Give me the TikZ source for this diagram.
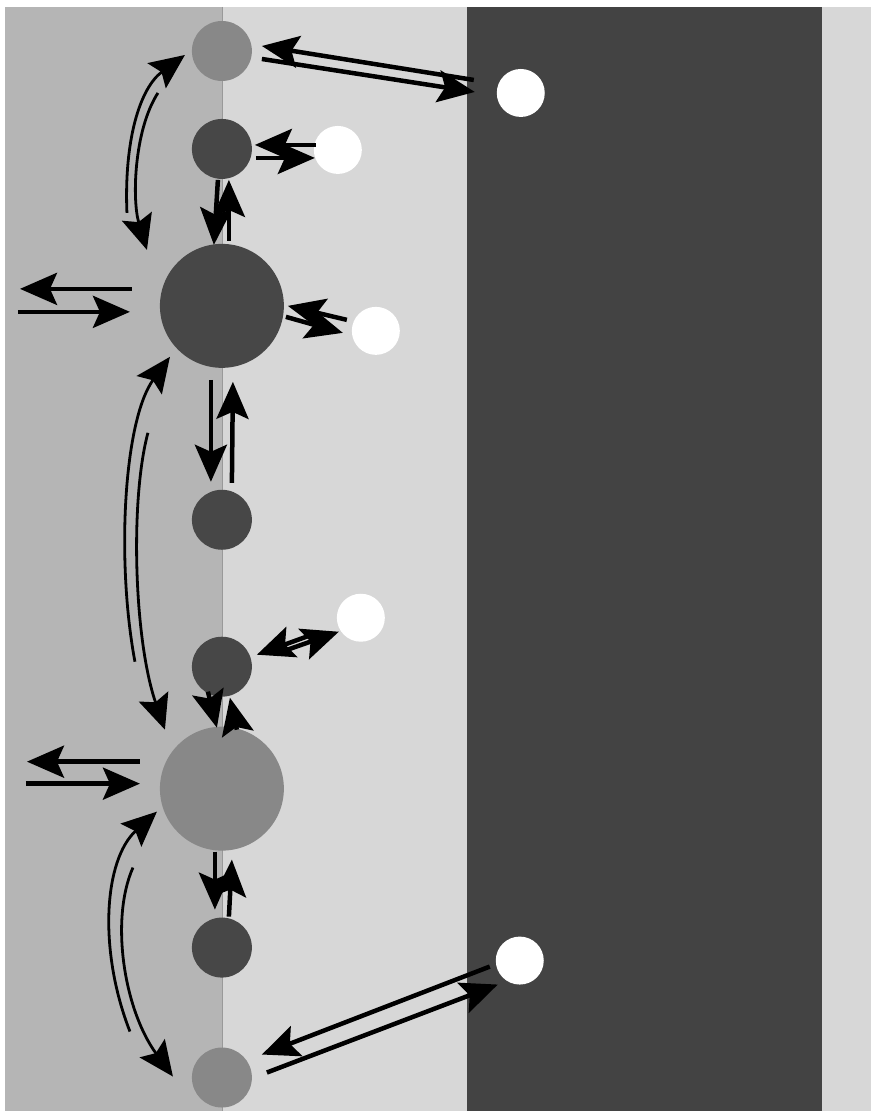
\documentclass[tikz,border=0pt]{standalone}
\usetikzlibrary{arrows.meta}
\definecolor{cellgray}{HTML}{B5B5B5}
\definecolor{mediumgray}{HTML}{D7D7D7}
\definecolor{bandgray}{HTML}{434343}
\definecolor{siteon}{HTML}{474747}
\definecolor{siteoff}{HTML}{888888}
\begin{document}
\begin{tikzpicture}[x=1pt, y=-1pt,
  >={Stealth[length=37pt, width=32pt, inset=7pt]},
  flux/.style={->, line width=4.5pt},
  hop/.style={->, line width=2.8pt, >={Stealth[length=35pt, width=31pt, inset=6pt]}},
  site/.style={circle, inner sep=0pt, minimum size=60pt},
  bigsite/.style={site, minimum size=124pt},
  ligand/.style={circle, fill=white, inner sep=0pt, minimum size=48pt}]
  % background
  \fill[white] (0,0) rectangle (871,1111);
  \fill[cellgray] (5,7) rectangle (223,1111);
  \fill[mediumgray] (223,7) rectangle (871,1111);
  \fill[bandgray] (467,7) rectangle (822,1111);
  \draw[gray!80, line width=1pt] (223,7) -- (223,1111);

  % sites on the boundary
  \node[site, fill=siteoff] (g1) at (222,51) {};
  \node[site, fill=siteon] (d2) at (222,149) {};
  \node[bigsite, fill=siteon] (D3) at (222,306) {};
  \node[site, fill=siteon] (d4) at (222,520) {};
  \node[site, fill=siteon] (d5) at (222,667) {};
  \node[bigsite, fill=siteoff] (G6) at (222,789) {};
  \node[site, fill=siteon] (d7) at (222,948) {};
  \node[site, fill=siteoff] (g8) at (222,1078) {};

  \node[ligand] (w1) at (521,93) {};
  \node[ligand] (w2) at (338,150) {};
  \node[ligand] (w3) at (376,331) {};
  \node[ligand] (w4) at (361,618) {};
  \node[ligand] (w5) at (520,961) {};

  \coordinate (outA) at (20,289);
  \coordinate (inA) at (18,312);
  \coordinate (outB) at (27,762);
  \coordinate (inB) at (26,784);

  % exchange with the ligands
  \draw[flux] ([shift={(-47,-13)}]w1.center) -- ([shift={(40,-5)}]g1.center);
  \draw[flux] ([shift={(40,8)}]g1.center) -- ([shift={(-46,-1)}]w1.center);
  \draw[flux] ([shift={(-22,-5)}]w2.center) -- ([shift={(33,-4)}]d2.center);
  \draw[flux] ([shift={(34,9)}]d2.center) -- ([shift={(-23,8)}]w2.center);
  \draw[flux] ([shift={(-29,-11)}]w3.center) -- ([shift={(66,0)}]D3.center);
  \draw[flux] ([shift={(64,11)}]D3.center) -- ([shift={(-33,2)}]w3.center);
  \draw[flux] ([shift={(-49,17)}]w4.center) -- ([shift={(35,-12)}]d5.center);
  \draw[flux] ([shift={(57,-14)}]d5.center) -- ([shift={(-22,14)}]w4.center);
  \draw[flux] ([shift={(-30,6)}]w5.center) -- ([shift={(40,-23)}]g8.center);
  \draw[flux] ([shift={(45,-5)}]g8.center) -- ([shift={(-22,24)}]w5.center);

  % along the boundary
  \draw[flux] ([shift={(-4,31)}]d2.center) -- ([shift={(-8,-61)}]D3.center);
  \draw[flux] ([shift={(7,-65)}]D3.center) -- ([shift={(7,31)}]d2.center);
  \draw[flux] ([shift={(-11,74)}]D3.center) -- ([shift={(-11,-38)}]d4.center);
  \draw[flux] ([shift={(10,-37)}]d4.center) -- ([shift={(11,76)}]D3.center);
  \draw[flux] ([shift={(-14,25)}]d5.center) -- ([shift={(-5,-61)}]G6.center);
  \draw[flux] ([shift={(15,-59)}]G6.center) -- ([shift={(8,31)}]d5.center);
  \draw[flux] ([shift={(-7,63)}]G6.center) -- ([shift={(-7,-38)}]d7.center);
  \draw[flux] ([shift={(7,-31)}]d7.center) -- ([shift={(10,71)}]G6.center);

  % in and out of the cell
  \draw[flux] ([shift={(-90,-17)}]D3.center) -- (outA);
  \draw[flux] (inA) -- ([shift={(-92,6)}]D3.center);
  \draw[flux] ([shift={(-82,-27)}]G6.center) -- (outB);
  \draw[flux] (inB) -- ([shift={(-82,-5)}]G6.center);

  % hops between sites
  \draw[hop] ([shift={(-95,-93)}]D3.center) .. controls (124,140) and (140,88) .. ([shift={(-37,4)}]g1.center);
  \draw[hop] ([shift={(-64,42)}]g1.center) .. controls (134,130) and (132,200) .. ([shift={(-75,-56)}]D3.center);
  \draw[hop] ([shift={(-87,-127)}]G6.center) .. controls (116,560) and (124,420) .. ([shift={(-52,51)}]D3.center);
  \draw[hop] ([shift={(-74,127)}]D3.center) .. controls (130,500) and (134,640) .. ([shift={(-57,-59)}]G6.center);
  \draw[hop] ([shift={(-92,-46)}]g8.center) .. controls (98,950) and (104,860) .. ([shift={(-65,23)}]G6.center);
  \draw[hop] ([shift={(-89,79)}]G6.center) .. controls (110,920) and (124,1010) .. ([shift={(-49,-1)}]g8.center);
\end{tikzpicture}
\end{document}
